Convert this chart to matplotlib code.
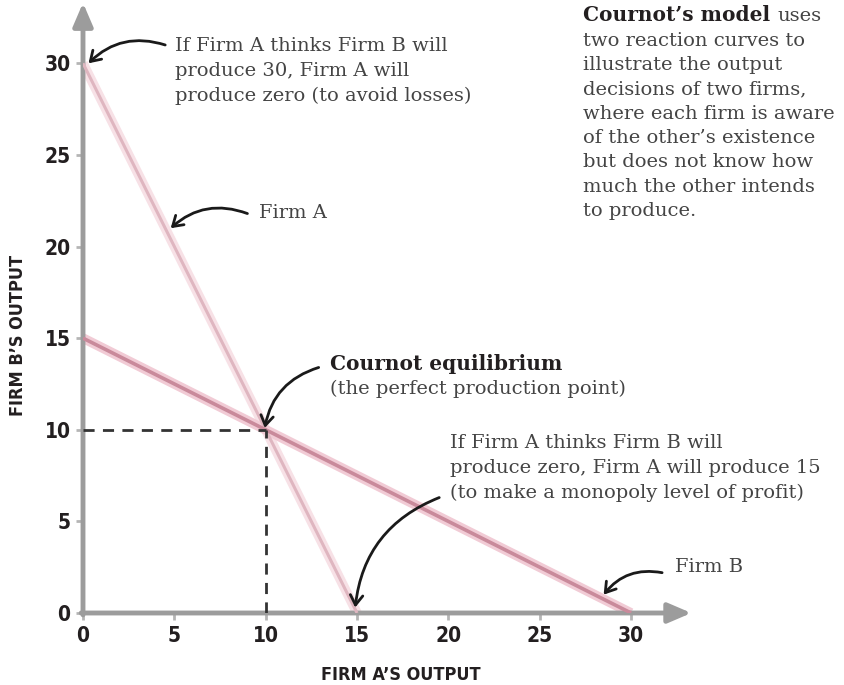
import matplotlib
matplotlib.use("Agg")
import matplotlib.pyplot as plt

# reaction curves (Firm A's output, Firm B's output)
firm_a_x = [0, 15]
firm_a_y = [30, 0]
firm_b_x = [0, 30]
firm_b_y = [15, 0]
eq_x, eq_y = 10, 10
ticks = [0, 5, 10, 15, 20, 25, 30]

serif = "DejaVu Serif"
txt_col = "#444444"
lab_font = dict(family="DejaVu Sans", stretch="condensed", weight="bold", color="#231f20")

fig = plt.figure(figsize=(8.45, 6.85), dpi=100)
ax = fig.add_axes([83 / 845, 72 / 685, 612 / 845, 612 / 685])
ax.set_xlim(0, 33.5)
ax.set_ylim(0, 33.4)
for s in ax.spines.values():
    s.set_visible(False)

# axes with arrowheads
axis_col = "#9c9c9c"
ax.annotate("", xy=(33.3, 0), xytext=(-0.1, 0), annotation_clip=False,
            arrowprops=dict(arrowstyle="-|>,head_length=1.4,head_width=0.6",
                            color=axis_col, lw=3.5, shrinkA=0, shrinkB=0))
ax.annotate("", xy=(0, 33.3), xytext=(0, -0.1), annotation_clip=False,
            arrowprops=dict(arrowstyle="-|>,head_length=1.4,head_width=0.6",
                            color=axis_col, lw=3.5, shrinkA=0, shrinkB=0))

ax.set_xticks(ticks)
ax.set_yticks(ticks)
ax.tick_params(length=5, width=2, color="#b5b5b5", pad=4)
for lab in ax.get_xticklabels() + ax.get_yticklabels():
    lab.set_family("DejaVu Sans")
    lab.set_stretch("condensed")
    lab.set_weight("bold")
    lab.set_fontsize(15)
    lab.set_color("#231f20")

fig.text(401 / 845, 1 - 675 / 685, "FIRM A\u2019S OUTPUT", fontsize=13,
         ha="center", va="center", **lab_font)
fig.text(18 / 845, 1 - 335 / 685, "FIRM B\u2019S OUTPUT", fontsize=13,
         ha="center", va="center", rotation=90, **lab_font)

# reaction curves with soft glow
ax.plot(firm_a_x, firm_a_y, color="#f7e1e6", lw=7, solid_capstyle="butt", zorder=2)
ax.plot(firm_a_x, firm_a_y, color="#dfb6c0", lw=2.2, solid_capstyle="butt", zorder=3)
ax.plot(firm_b_x, firm_b_y, color="#f1cbd5", lw=7, solid_capstyle="butt", zorder=2)
ax.plot(firm_b_x, firm_b_y, color="#c98a9b", lw=2.6, solid_capstyle="butt", zorder=3)

# equilibrium guides
ax.plot([0, eq_x], [eq_y, eq_y], color="#333333", lw=2, ls=(0, (4, 3)), zorder=4)
ax.plot([eq_x, eq_x], [0, eq_y], color="#333333", lw=2, ls=(0, (4, 3)), zorder=4)

arrow = dict(arrowstyle="->,head_length=0.7,head_width=0.45", color="#1a1a1a",
             lw=2, shrinkA=0, shrinkB=0)

def note(xy, xytext, rad):
    a = dict(arrow)
    a["connectionstyle"] = "arc3,rad=%s" % rad
    ax.annotate("", xy=xy, xytext=xytext, arrowprops=a, annotation_clip=False)

note((0.3, 30.0), (4.5, 31.0), 0.3)
note((4.8, 21.0), (9.0, 21.8), 0.3)
note((9.95, 10.1), (12.9, 13.4), 0.3)
note((14.9, 0.3), (19.5, 6.3), 0.3)
note((28.5, 1.0), (31.7, 2.2), 0.3)

fs = 14
ax.text(5.05, 31.46, "If Firm A thinks Firm B will\nproduce 30, Firm A will\nproduce zero (to avoid losses)",
        family=serif, fontsize=fs, color=txt_col, va="top", linespacing=1.51)
ax.text(9.65, 21.82, "Firm A", family=serif, fontsize=fs, color=txt_col, va="center")
ax.text(13.5, 13.58, "Cournot equilibrium", family=serif, fontsize=fs + 0.5, weight="bold",
        color="#231f20", va="center")
ax.text(13.5, 12.22, "(the perfect production point)", family=serif, fontsize=fs,
        color=txt_col, va="center")
ax.text(20.1, 9.75, "If Firm A thinks Firm B will\nproduce zero, Firm A will produce 15\n(to make a monopoly level of profit)",
        family=serif, fontsize=fs, color=txt_col, va="top", linespacing=1.48)
ax.text(32.4, 2.5, "Firm B", family=serif, fontsize=fs, color=txt_col, va="center")

side = ["two reaction curves to", "illustrate the output",
        "decisions of two firms,", "where each firm is aware",
        "of the other\u2019s existence", "but does not know how",
        "much the other intends", "to produce."]
head = ax.text(27.37, 32.3, "Cournot\u2019s model", family=serif, fontsize=fs + 0.5,
               weight="bold", color="#231f20", va="baseline")
ax.annotate("uses", xy=(1, 0), xycoords=head, xytext=(5, 0), textcoords="offset points",
            family=serif, fontsize=fs, color=txt_col, va="bottom", annotation_clip=False)
ax.text(27.37, 31.73, "\n".join(side), family=serif, fontsize=fs,
        color=txt_col, va="top", linespacing=1.455)

fig.savefig("out.png", dpi=100)
